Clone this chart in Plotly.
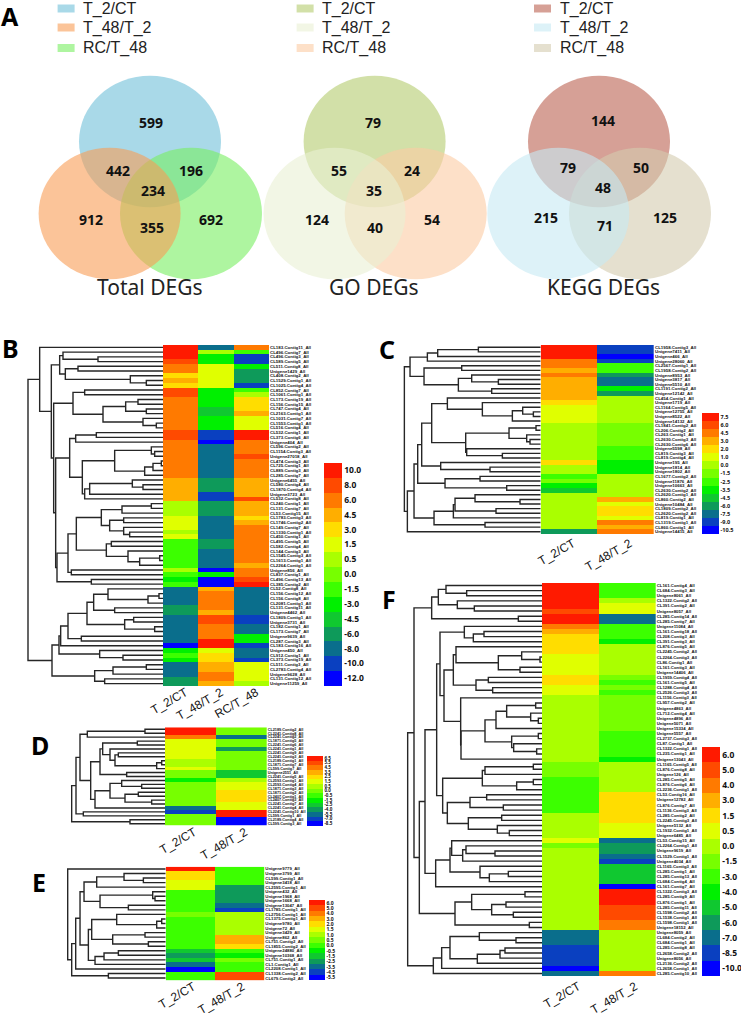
import plotly.graph_objects as go

W, H = 741, 1013

# ---------- Panel A: Venn diagrams ----------
venn_titles = ["Total DEGs", "GO DEGs", "KEGG DEGs"]
venn_sets = ["T_2/CT", "T_48/T_2", "RC/T_48"]
venn_colors = [["#70C0D9", "#F89D55", "#78EE61"],
               ["#B4CB6E", "#E9F0D4", "#FCCBA3"],
               ["#BB6150", "#C6E9F3", "#D4CBAF"]]
total_counts = [599, 442, 196, 234, 912, 355, 692]
go_counts = [79, 55, 24, 35, 124, 40, 54]
kegg_counts = [144, 79, 50, 48, 215, 71, 125]

# ---------- Heatmap colour bands (top of bar first) ----------
band_colors = ["#FF1A00", "#FF4A00", "#FF7A00", "#FFAE00", "#FFDD00", "#E0FF00", "#AAFF00", "#77FF00",
               "#3CFF00", "#00F000", "#10C830", "#0E9A5A", "#0A6E8C", "#0A40C0", "#0000FF"]

# ---------- Panel B ----------
B_levels = [10.0, 8.0, 6.0, 4.5, 3.0, 1.5, 0.5, 0.0, -1.5, -3.0, -4.5, -6.0, -8.0, -10.0, -12.0]
B_names = ["CL183.Contig11", "CL496.Contig7", "CL496.Contig3", "CL589.Contig5", "CL511.Contig8", "Unigene1429",
           "CL408.Contig2", "CL1529.Contig1", "CL1025.Contig4", "CL852.Contig7", "CL1061.Contig1", "CL173.Contig19",
           "CL156.Contig15", "CL747.Contig4", "CL2163.Contig1", "CL1031.Contig7", "CL1553.Contig1", "CL516.Contig4",
           "CL532.Contig1", "CL373.Contig6", "Unigene404", "CL596.Contig2", "CL1154.Contig3", "Unigene27018",
           "CL474.Contig3", "CL725.Contig1", "CL889.Contig3", "CL285.Contig7", "Unigene6455", "CL580.Contig4",
           "CL1870.Contig4", "Unigene3723", "CL532.Contig8", "CL240.Contig1", "CL131.Contig7", "CL53.Contig15",
           "CL1783.Contig3", "CL1746.Contig2", "CL149.Contig7", "CL1330.Contig1", "CL450.Contig1", "CL495.Contig5",
           "CL582.Contig4", "CL144.Contig3", "CL1545.Contig3", "CL1613.Contig1", "CL2264.Contig1", "Unigene856",
           "CL837.Contig1", "CL496.Contig13", "CL385.Contig2", "CL52.Contig8", "CL156.Contig12", "CL156.Contig8",
           "CL2081.Contig1", "CL131.Contig11", "Unigene4462", "CL1809.Contig1", "Unigene3731", "CL182.Contig1",
           "CL173.Contig7", "Unigene9639", "CL287.Contig3", "CL183.Contig16", "Unigene450", "CL912.Contig1",
           "CL373.Contig19", "CL511.Contig3", "CL2783.Contig4", "Unigene9628", "CL131.Contig12", "Unigene11259"]
B_T2 = [10, 10, 10, 8, 6, 6, 3, 4.5, 3, 8,
        8, 6, 6, 6, 6, 6, 6, 6, 8, 8,
        6, 6, 6, 6, 6, 6, 6, 6, 4.5, 4.5,
        4.5, 4.5, 4.5, .5, .5, .5, 1.5, 1.5, 1.5, .5,
        1.5, -1.5, -1.5, -1.5, -1.5, -1.5, -1.5, .5, -1.5, -3,
        -1.5, -8, -8, -8, -8, -6, -6, -8, -8, -8,
        -8, -8, -8, -12, -3, -1.5, -3, -8, -8, -8,
        -6, -6]
B_T48 = [-8, .5, -3, -3, 1.5, 1.5, 1.5, 1.5, 1.5, -3,
         -3, -3, -3, -4.5, -4.5, -3, -3, -3, -10, -10,
         -12, -8, -8, -8, -8, -8, -8, -8, -6, -6,
         -6, -10, -10, -6, -6, -6, -8, -8, -8, -8,
         -8, -6, -6, -8, -8, -8, -8, -12, -3, -12,
         -12, 4.5, 6, 6, 6, 6, 4.5, 8, 8, 6,
         6, 6, 10, 10, 1.5, 3, 3, 4.5, 4.5, 6,
         6, 4.5]
B_RC = [6, -1.5, -10, -10, -3, -6, -6, -6, -10, -1.5,
        .5, 3, 3, 3, 4.5, 1.5, 1.5, 1.5, 10, 10,
        6, 6, 6, 8, 6, 6, 6, 6, 4.5, 4.5,
        4.5, 4.5, 8, 4.5, 4.5, 4.5, 3, 4.5, 6, 6,
        6, 6, 6, 6, 6, 6, 4.5, 6, 6, 8,
        10, -8, -8, -8, -8, -8, -8, -10, -10, -8,
        -8, -3, -3, -10, -8, -8, -10, 1.5, 1.5, 1.5,
        1.5, .5]
# linkage: (distance, left, right); integers are row numbers
B_TREE = (405,
          (370, 0, (335,
                    (310, (300, 1, (195, 2, 3)), (293, (255, 4, 5), (98, 6, (50, 7, 8)))),
                    (328,
                     (270, (235, 9, 10), (180, (112, (75, 11, 12), (50, 13, 14)), (60, 15, (20, 16, 17)))),
                     (322,
                      (280, (262, (200, 18, 19), 20),
                       (242, (145, (35, 21, (25, 22, 23)), (55, (30, (5, 24, 25), 26), 27)),
                        (235, (220, (92, 28, (60, 29, 30)), 31), 32))),
                      (318, (285, (260, (185, (123, (35, 33, 34), 35), (160, (118, 36, 37), (118, 38, (100, 39, 40)))),
                                   (170, (155, 41, 42), (105, 43, (70, (10, 44, 45), 46)))), (275, 47, 48)),
                       (215, 49, 50)))))),
          (333, (312, (307, (285, (228, (208, (165, 51, (45, (12, 52, 53), 54)), (145, 55, 56)),
                                    (115, (88, 57, 58), (25, 59, 60))), (245, 61, 62)), 63),
                       (190, 64, (120, 65, 66))),
           (205, (150, (50, 67, 68), 69), (175, 70, 71))))

# ---------- Panel C ----------
C_levels = [7.5, 6.0, 4.5, 3.0, 2.0, 1.0, 0.0, -1.5, -2.5, -3.5, -4.5, -6.0, -7.5, -9.0, -10.5]
C_names = ["CL1958.Contig3", "Unigene7411", "Unigene466", "Unigene28060", "CL2567.Contig1", "CL1958.Contig2",
           "Unigene8953", "Unigene3817", "Unigene5510", "CL1191.Contig2", "Unigene12142", "CL454.Contig1",
           "Unigene1719", "CL1164.Contig5", "Unigene12755", "Unigene8522", "Unigene14132", "CL1841.Contig2",
           "CL206.Contig2", "CL263.Contig1", "CL2630.Contig3", "CL2630.Contig6", "Unigene5598", "CL819.Contig3",
           "CL819.Contig4", "Unigene195", "Unigene1814", "Unigene1802", "CL1677.Contig2", "Unigene11876",
           "Unigene10663", "CL2630.Contig2", "CL2620.Contig1", "CL860.Contig2", "Unigene10484", "CL1809.Contig2",
           "CL2620.Contig2", "CL819.Contig1", "CL1319.Contig1", "CL860.Contig1", "Unigene14415"]
C_T2 = [7.5, 7.5, 7.5, 4.5, 4.5, 3, 4.5, 3, 3, 3,
        3, 3, 2, 1, 1, 1, 1, 0, 0, 0,
        0, 0, 0, 0, 0, 2, 0, 0, -2.5, -1.5,
        -3.5, -4.5, 0, 0, 0, 0, 0, 0, 0, 0,
        -6]
C_T48 = [-9, -9, -10.5, -9, -2.5, -2.5, -6, -7.5, -7.5, -3.5,
         -6, 0, 0, 0, 0, 0, 0, -1.5, -1.5, -1.5,
         -1.5, -1.5, -2.5, -2.5, -2.5, -3.5, -3.5, -3.5, 0, 0,
         0, 0, 0, 3, 1, 2, 2, 1, 4.5, 3,
         4.5]
C_TREE = (409,
          (392, (340, (309, (187, 0, 1), 2), 3), (350, (237, 4, 5), (247, (207, 6, (127, 7, 8)), (147, 9, 10)))),
          (400, (380, (369, (357, (327, (280, 11, (175, 12, (85, (54, 13, (22, 14, 15)), 16))),
                                   (225, (95, (14, 17, 18), (42, 19, (32, 20, 21))), (222, 22, (115, 23, 24)))),
                             (300, 25, (152, 26, 27))),
                       (287, (182, 28, 29), (102, 30, 31))),
                 (320, (262, (257, (197, 32, (62, 33, 34)), (134, 35, 36)), 37), (167, 38, 39))), 40))

# ---------- Panel D ----------
D_levels = [6.5, 5.5, 4.5, 3.5, 2.5, 1.5, 0.5, 0.0, -0.5, -1.5, -2.5, -4.0, -5.5, -7.0, -8.5]
D_names = ["CL2189.Contig2", "CL2241.Contig8", "CL2241.Contig2", "CL1871.Contig5", "CL2241.Contig6", "CL2241.Contig1",
           "CL2241.Contig9", "CL2241.Contig3", "CL2189.Contig1", "CL1871.Contig7", "CL599.Contig7", "Unigene2551",
           "CL2241.Contig5", "CL2593.Contig1", "CL2593.Contig4", "CL1871.Contig3", "CL1871.Contig2", "CL2407.Contig1",
           "CL2407.Contig3", "CL2241.Contig7", "CL2241.Contig4", "CL2241.Contig10", "CL599.Contig1", "CL2189.Contig4",
           "CL599.Contig3"]
D_T2 = [6.5, 6.5, 4.5, 1.5, 1.5, 1.5, 1.5, 1.5, .5, .5,
        1.5, 0, 0, -1.5, 0, 0, 0, 0, 0, 0,
        -5.5, -7, 0, 0, 0]
D_T48 = [0, 0, -5.5, 0, 0, -4, 0, 0, 0, 0,
         0, -2.5, -2.5, .5, 1.5, 1.5, 2.5, 2.5, 2.5, 1.5,
         1.5, 6.5, 6.5, -8.5, -8.5]
D_TREE = (280,
          (267, (255, (233, (60, 0, 1), 2),
                 (223, (195, (187, (83, 3, 4), (165, 5, (150, (140, 6, 7), (25, (10, 8, 9), 10)))), (115, 11, 12)),
                  (210, (165, (130, 13, (70, 14, 15)), (120, (80, 16, 17), (40, 18, 19))), 20))),
           (245, 21, 22)),
          (105, 23, 24))

# ---------- Panel E ----------
E_levels = [6.0, 5.0, 4.0, 3.0, 2.0, 1.5, 1.0, 0.5, 0.0, -0.5, -1.5, -2.5, -3.5, -4.5, -5.5]
E_names = ["Unigene9779", "Unigene3799", "CL599.Contig1", "Unigene3418", "CL2595.Contig1", "Unigene432", "Unigene1968",
           "Unigene1668", "Unigene13047", "CL1785.Contig1", "CL2756.Contig1", "CL1375.Contig1", "Unigene9780",
           "Unigene72", "Unigene3429", "Unigene862", "CL751.Contig2", "CL1855.Contig2", "Unigene24880",
           "Unigene10368", "CL751.Contig1", "CL1.Contig1", "CL2208.Contig1", "CL1338.Contig2", "CL679.Contig2"]
E_T2 = [6, 2, 2, 1.5, 1.5, 0, 0, 0, 0, 0,
        .5, 0, 0, 0, 0, 0, 0, 0, -1.5, -2.5,
        -1.5, -3.5, -5.5, 0, 0]
E_T48 = [0, 0, 0, 0, -2.5, -2.5, -2.5, -2.5, -3.5, -4.5,
         1, 1, 1, 1, 1, 3, 3, 2, 0, -.5,
         .5, 0, 0, 5, 5]
E_TREE = (294, 0,
          (282, (270, (257, (245, (207, (125, 1, (67, 2, 3)), 4), (197, (39, 5, (32, 6, 7)), (112, 8, 9))),
                       (232, (222, (147, 10, (27, (12, 11, 12), 13)), (159, (62, 14, 15), (52, 16, 17))),
                        (212, (185, (142, 18, 19), 20), 21))), 22),
           (172, 23, 24)))

# ---------- Panel F ----------
F_levels = [6.0, 5.0, 4.0, 3.0, 1.5, 0.5, 0.0, -1.5, -3.0, -4.0, -5.0, -6.0, -7.0, -8.5, -10.0]
F_names = ["CL161.Contig4", "CL684.Contig3", "Unigene8061", "CL1322.Contig2", "CL391.Contig2", "Unigene8057",
           "CL285.Contig14", "CL285.Contig7", "Unigene11084", "CL161.Contig18", "CL208.Contig3", "CL391.Contig3",
           "CL876.Contig5", "CL2245.Contig2", "CL2264.Contig3", "CL86.Contig1", "CL161.Contig3", "Unigene14406",
           "CL1959.Contig4", "CL161.Contig5", "CL1288.Contig4", "CL2526.Contig3", "CL1156.Contig3", "CL957.Contig2",
           "Unigene4863", "CL712.Contig4", "Unigene4896", "Unigene5071", "Unigene15334", "Unigene5557",
           "CL2737.Contig3", "CL87.Contig1", "CL1322.Contig1", "CL235.Contig1", "Unigene13043", "CL1165.Contig5",
           "CL876.Contig8", "Unigene126", "CL285.Contig5", "CL876.Contig6", "CL2236.Contig1", "CL53.Contig16",
           "Unigene12782", "CL876.Contig7", "CL1136.Contig3", "CL285.Contig2", "CL2245.Contig3", "Unigene5132",
           "CL1932.Contig1", "Unigene6485", "CL53.Contig15", "CL2264.Contig1", "Unigene9619", "CL1529.Contig1",
           "Unigene4034", "CL1165.Contig3", "CL285.Contig1", "CL285.Contig13", "CL684.Contig4", "CL161.Contig7",
           "CL1322.Contig3", "CL285.Contig9", "CL876.Contig1", "CL285.Contig11", "CL1598.Contig2", "CL1538.Contig1",
           "CL1598.Contig1", "Unigene18152", "Unigene8059", "CL684.Contig2", "CL684.Contig1", "CL285.Contig8",
           "CL2658.Contig2", "Unigene8056", "CL2136.Contig2", "CL2658.Contig1", "CL285.Contig10"]
F_T2 = [6, 6, 6, 6, 6, 5, 6, 6, 4, 3,
        1.5, 1.5, 1.5, 1.5, .5, .5, .5, .5, 1.5, 1.5,
        .5, .5, 0, 0, 0, 0, 0, 0, 0, 0,
        0, 0, 0, 0, 0, -1.5, -1.5, -1.5, -3, -3,
        -3, -3, -3, -3, -3, 0, 0, 0, 0, 0,
        .5, -1.5, 0, 0, 0, 0, 0, 0, 0, 0,
        0, 0, 0, 0, 0, 0, 0, 0, -7, -7,
        -7, -8.5, -8.5, -8.5, -8.5, -10, -7]
F_T48 = [-3, -3, -3, 0, .5, .5, -7, -7, -3, -3,
         -3, -4, 0, 0, 0, 0, 0, 0, -1.5, -3,
         -1.5, -3, -1.5, -1.5, -1.5, -1.5, -1.5, -1.5, -1.5, -3,
         -3, -3, -3, -3, -4, 0, 0, 0, 0, 0,
         0, 1.5, 1.5, 1.5, 1.5, 1.5, 1.5, .5, .5, .5,
         -7, -6, -6, -7, -8.5, -5, -5, -5, -5, -10,
         6, 6, 6, 5, 5, 5, 4, 4, 0, 0,
         0, 0, 0, 0, 0, 0, 4]
F_TREE = (403,
          (384,
           (331, (311, (288, 0, (226, 1, 2)), (254, 3, (203, 4, 5))), (71, 6, 7)),
           (368,
            (351,
             (316,
              (306, (233, 8, (206, (174, 9, 10), 11)),
               (294, (266, (258, 12, (131, (61, 13, (6, 14, 15)), (66, 16, 17))),
                      (198, (161, 18, 19), (148, 20, 21))),
                (244, 22, (243, (171, (138, (106, (19, 23, 24), (34, 25, (11, 26, 27))), 28),
                                 (91, (11, 29, 30), (85, 31, (16, 32, 33)))), 34)))),
              (298, (179, (171, (26, 35, 36), 37), (76, (26, 38, 39), 40)),
               (284, (216, (166, 41, 42), (116, 43, 44)), (221, (121, 45, 46), (134, 47, (98, 48, 49)))))),
             (319, (276, (271, 50, (238, (228, 51, (141, 52, 53)), 54)), (186, 55, (158, (101, 56, 57), 58))), 59)),
            (261, (211, (51, 60, 61), (151, (108, 62, 63), (86, 64, 65))), (38, 66, 67)))),
          (326, (301, (276, (188, 68, (78, 69, 70)), (194, (126, (111, 71, 72), 73), 74)), 75), 76))

COLS3 = ["T_2/CT", "T_48/T_2", "RC/T_48"]
COLS2 = ["T_2/CT", "T_48/T_2"]


def px_x(v):
    return v / W


def px_y(v):
    return 1 - v / H


fig = go.Figure()
layout = {}
axis_no = [0]


def next_axis():
    axis_no[0] += 1
    return axis_no[0]


def key(prefix, n):
    return prefix + ("" if n == 1 else str(n))


def tree_lines(tree):
    xs, ys = [], []

    def walk(node):
        if isinstance(node, int):
            return 0.0, float(node)
        d, a, b = node
        da, ya = walk(a)
        db, yb = walk(b)
        xs.extend([da, d, d, db, None])
        ys.extend([ya, ya, yb, yb, None])
        return d, (ya + yb) / 2

    walk(tree)
    return xs, ys


colorscale = []
for i, c in enumerate(reversed(band_colors)):
    colorscale += [[i / 15, c], [(i + 1) / 15, c]]


def panel(columns, names, tree, levels, cols, box, bar, label_size, bar_size, tick_gap, label_shift):
    x0, x1, y0, y1 = box
    bx0, bx1, by0, by1 = bar
    n = len(names)
    for c in columns:
        assert len(c) == n, len(c)
    z = [[14 - levels.index(float(c[r])) for c in columns] for r in range(n)]
    a = next_axis()
    d = next_axis()
    labels = [s + "_All" for s in names]
    fig.add_trace(go.Heatmap(
        z=z, x=list(range(len(cols))), y=list(range(n)), xaxis=key("x", a), yaxis=key("y", a),
        zmin=-0.5, zmax=14.5, colorscale=colorscale, hoverinfo="skip",
        colorbar=dict(x=px_x(bx0), xanchor="left", xpad=0, y=px_y(by1), yanchor="bottom", ypad=0,
                      len=(by1 - by0) / H, lenmode="fraction", thickness=bx1 - bx0, thicknessmode="pixels",
                      outlinewidth=0, tickmode="array", tickvals=[14 - i for i in range(15)],
                      ticktext=["%.1f" % v for v in levels], ticks="", ticklabelposition="outside",
                      tickfont=dict(family="Noto Sans", size=bar_size, color="#111", weight="bold")),
    ))
    xs, ys = tree_lines(tree)
    span = 145
    fig.add_trace(go.Scatter(x=xs, y=ys, mode="lines", xaxis=key("x", d), yaxis=key("y", a),
                             line=dict(color="#262626", width=1.4), hoverinfo="skip", showlegend=False))
    col_w = (x1 - x0) / len(cols)
    layout[key("xaxis", a)] = dict(
        domain=[px_x(x0), px_x(x1)], range=[-0.5, len(cols) - 0.5], anchor=key("y", a), showgrid=False, zeroline=False,
        tickmode="array", tickvals=[i + label_shift / col_w for i in range(len(cols))], ticktext=cols, tickangle=-30,
        ticks="outside", ticklen=tick_gap, tickcolor="rgba(0,0,0,0)", showline=False, ticklabelstandoff=-8,
        tickfont=dict(family="Liberation Sans", size=12, color="#111"))
    layout[key("yaxis", a)] = dict(
        domain=[px_y(y1), px_y(y0)], range=[n - 0.5, -0.5], anchor=key("x", a), side="right", showgrid=False,
        zeroline=False, tickmode="array", tickvals=list(range(n)), ticktext=labels, ticks="", showline=False,
        tickfont=dict(family="Liberation Sans", size=label_size, color="#111", weight="bold"))
    layout[key("xaxis", d)] = dict(domain=[px_x(x0 - span), px_x(x0)], range=[3 * span, 0], visible=False,
                                   anchor=key("y", a))


panel([B_T2, B_T48, B_RC], B_names, B_TREE, B_levels, COLS3, (163, 269, 345, 686), (324, 342, 462.7, 685.7), 4.4, 8.5, 2, 5)
panel([C_T2, C_T48], C_names, C_TREE, C_levels, COLS2, (540.7, 654, 345, 534), (702, 718.7, 413.3, 534), 4.4, 5.5, 5, 4)
panel([D_T2, D_T48], D_names, D_TREE, D_levels, COLS2, (165, 266.7, 727.3, 825.7), (307.3, 323.3, 755.7, 825.7), 3.8, 4.5, 2, 4)
panel([E_T2, E_T48], E_names, E_TREE, E_levels, COLS2, (165.7, 264.3, 866.7, 980.3), (308.7, 324.3, 900, 980.3), 4.3, 5, 2, 3)
panel([F_T2, F_T48], F_names, F_TREE, F_levels, COLS2, (542, 655.7, 583, 976), (702.3, 720, 746.7, 976), 4.3, 8.5, 6, 8)

# Full-page axes for the Venn drawing and panel letters
v = next_axis()
vx, vy = key("x", v), key("y", v)
layout[key("xaxis", v)] = dict(domain=[0, 1], range=[0, W], visible=False, anchor=vy)
layout[key("yaxis", v)] = dict(domain=[0, 1], range=[H, 0], visible=False, anchor=vx)
fig.add_trace(go.Scatter(x=[None], y=[None], xaxis=vx, yaxis=vy, showlegend=False, hoverinfo="skip"))

shapes, annos = [], []
venn_top_x = [150.0, 374.6, 599.0]
venn_left_x = [109.6, 334.5, 558.3]
venn_right_x = [191.0, 415.7, 640.0]
legend_x = [57.6, 296.6, 534.0]
legend_y = [8.5, 27.5, 48.0]
title_x = [150, 374, 603]
count_x = [[151, 118, 191, 152.6, 91, 152, 211],
           [372.7, 339, 412, 373.6, 317, 374.6, 432],
           [602.7, 568, 641, 602.7, 546, 604.6, 665]]
count_y = [[122, 170, 170, 190, 219, 227, 219],
           [122, 170, 170, 190, 219, 227, 219],
           [120, 167.7, 167.7, 187.7, 217, 225, 217]]
rx, ry = 71.0, 65.7
top_y, low_y = 141.5, 213.5
counts = [total_counts, go_counts, kegg_counts]

for k in range(3):
    top, left, right = venn_colors[k]
    for cx, cy, col in [(venn_top_x[k], top_y, top), (venn_right_x[k], low_y, right), (venn_left_x[k], low_y, left)]:
        shapes.append(dict(type="circle", xref=vx, yref=vy, x0=cx - rx, x1=cx + rx, y0=cy - ry, y1=cy + ry,
                           fillcolor=col, opacity=0.6, line_width=0, layer="below"))
    for i in range(3):
        shapes.append(dict(type="rect", xref=vx, yref=vy, x0=legend_x[k], x1=legend_x[k] + 17,
                           y0=legend_y[i] - 4, y1=legend_y[i] + 4, fillcolor=venn_colors[k][i], opacity=0.6,
                           line_width=0, layer="below"))
        annos.append(dict(x=legend_x[k] + 23.5, y=legend_y[i], text=venn_sets[i], xanchor="left", yanchor="middle",
                          font=dict(family="Liberation Sans", size=16, color="#222")))
    for cx, cy, c in zip(count_x[k], count_y[k], counts[k]):
        annos.append(dict(x=cx, y=cy, text=str(c), xanchor="center", yanchor="middle",
                          font=dict(family="Noto Sans", size=14, color="#111", weight="bold")))
    annos.append(dict(x=title_x[k], y=287, text=venn_titles[k], xanchor="center", yanchor="middle",
                      font=dict(family="Noto Sans", size=21, color="#222")))

panel_letters = ["A", "B", "C", "D", "E", "F"]
letter_x = [9.5, 10, 387, 40, 39, 389]
letter_y = [16, 348, 349, 745, 882, 599]
for t, lx, ly in zip(panel_letters, letter_x, letter_y):
    annos.append(dict(x=lx, y=ly, text=t, xanchor="center", yanchor="middle",
                      font=dict(family="Noto Sans", size=25, color="#000", weight="bold")))
for an in annos:
    an.update(xref=vx, yref=vy, showarrow=False)

layout.update(width=W, height=H, margin=dict(l=0, r=0, t=0, b=0, autoexpand=False), paper_bgcolor="white",
              plot_bgcolor="rgba(0,0,0,0)", showlegend=False, shapes=shapes, annotations=annos)
fig.update_layout(**layout)
fig.write_html("out.html", config={"displayModeBar": False}, post_script="document.body.style.margin='0';")
